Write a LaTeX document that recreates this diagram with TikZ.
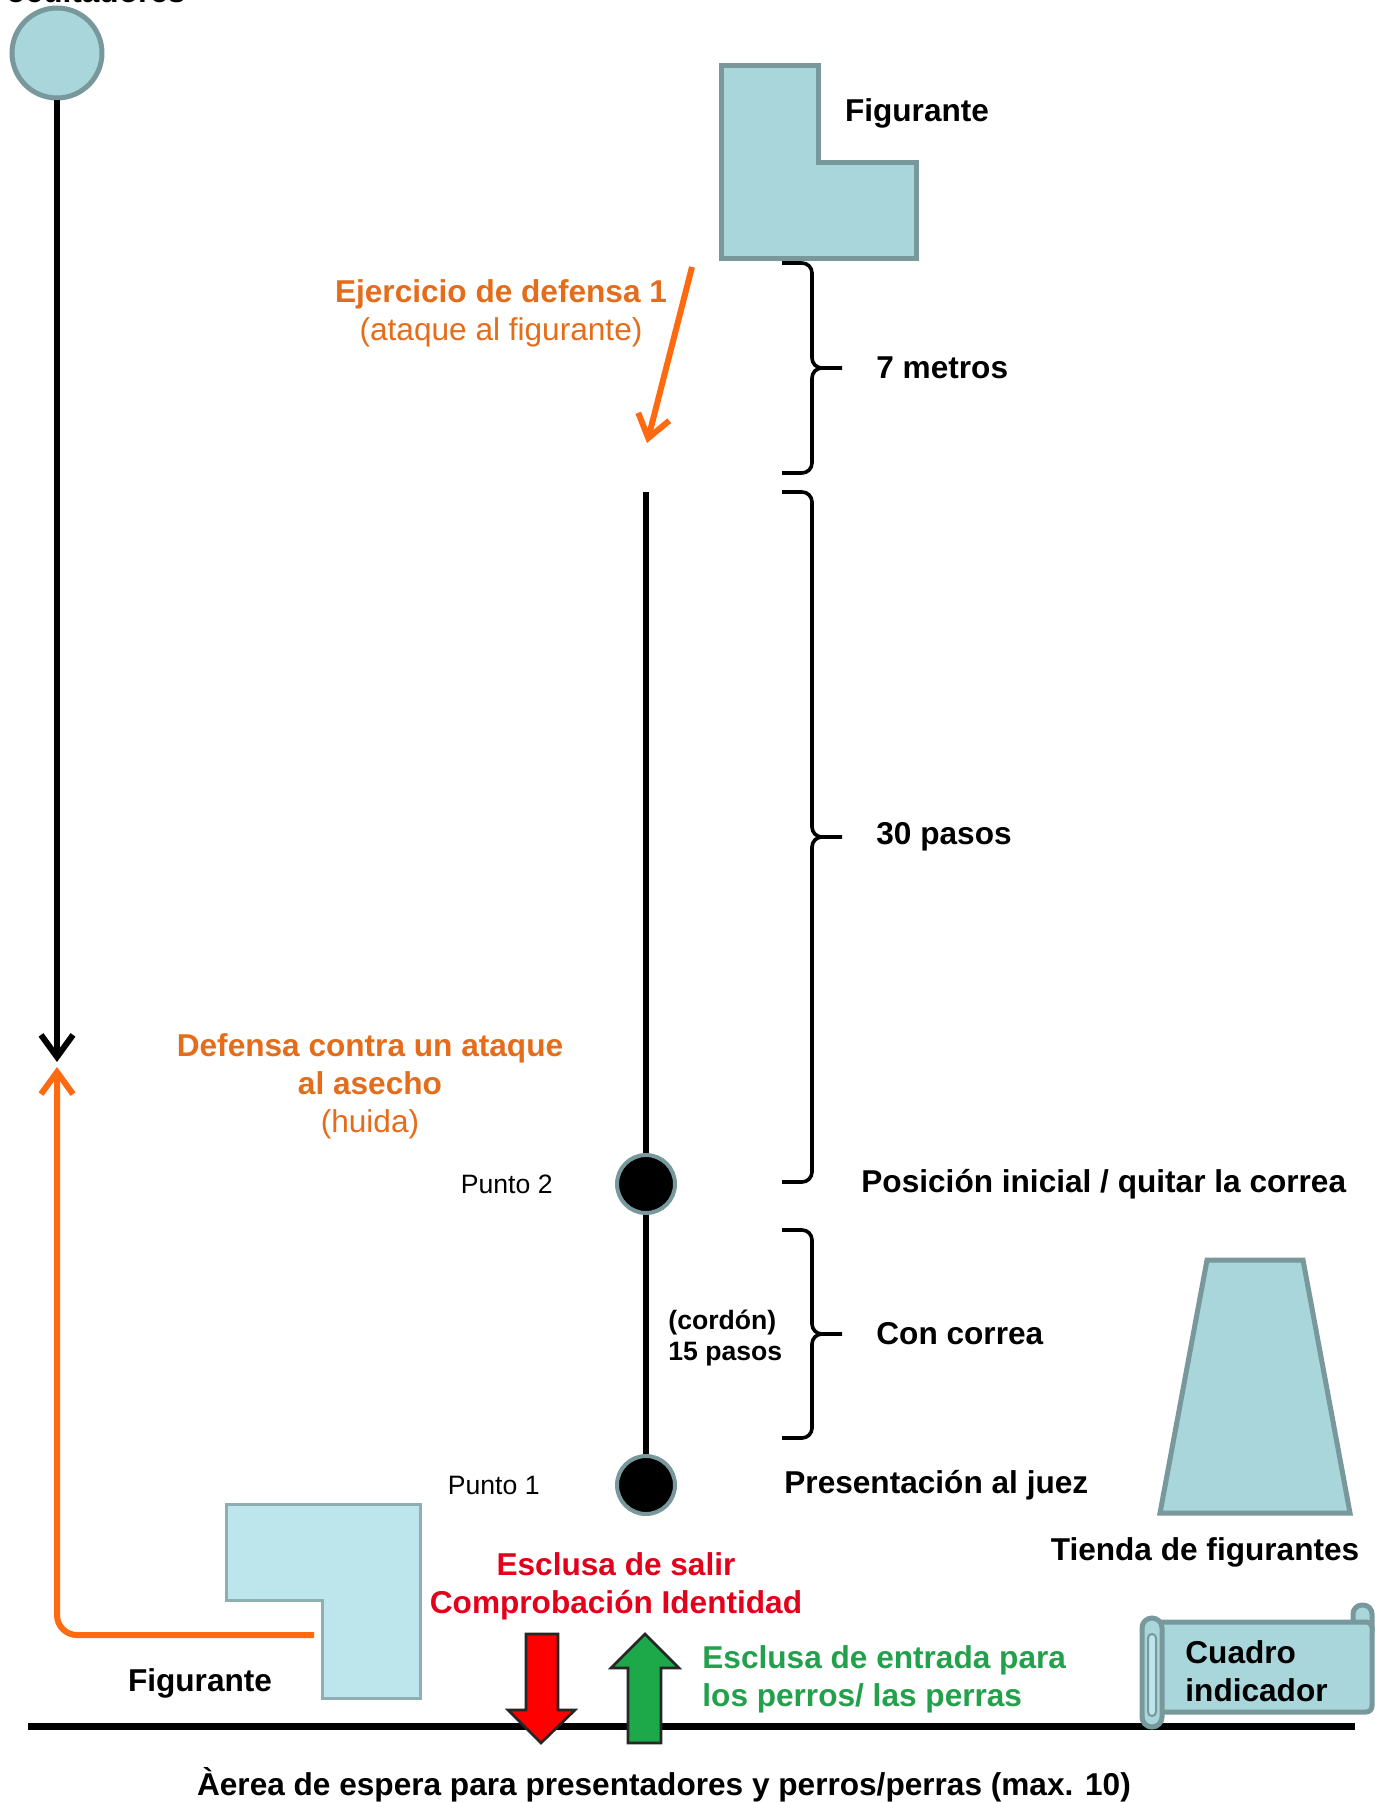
\documentclass[tikz,border=0pt]{standalone}
\usepackage{fontspec}
\setmainfont{Liberation Sans}
\usetikzlibrary{arrows.meta, positioning}
\definecolor{tealfill}{HTML}{A8D6DA}
\definecolor{tealline}{HTML}{78989B}
\definecolor{palefill}{HTML}{BCE6EC}
\definecolor{paleline}{HTML}{8DAEB2}
\definecolor{runorange}{HTML}{FF6A10}
\definecolor{textorange}{HTML}{E46C1A}
\definecolor{textred}{HTML}{E2001A}
\definecolor{textgreen}{HTML}{23A04B}
\definecolor{exitred}{HTML}{FF0000}
\definecolor{entrygreen}{HTML}{1DA84A}
\newcommand{\labelfont}{\fontsize{15.8}{19}\selectfont}
\newcommand{\smallfont}{\fontsize{13.3}{15.5}\selectfont}
\tikzstyle{note} = [inner sep=0pt, font=\labelfont\bfseries]
\tikzstyle{small_note} = [inner sep=0pt, font=\smallfont]
\tikzstyle{track} = [line width=3pt]
\tikzstyle{ground} = [line width=3.5pt]
\tikzstyle{arrow} = [line width=3pt, -{Straight Barb[length=11pt, width=16pt]}]
\tikzstyle{flee} = [arrow, draw=runorange, rounded corners=10pt]
\tikzstyle{brace} = [line width=1.8pt, rounded corners=5pt]
\tikzstyle{hideout} = [circle, draw=tealline, fill=tealfill, line width=2.5pt, minimum size=45pt, inner sep=0pt]
\tikzstyle{spot} = [circle, draw=tealline, fill=black, line width=2pt, minimum size=29pt, inner sep=0pt]
\tikzstyle{figure} = [draw=tealline, fill=tealfill, line width=2.5pt]
\tikzstyle{pale_figure} = [draw=paleline, fill=palefill, line width=1.5pt]
\tikzstyle{gate} = [draw=black!85, line width=1.3pt]

\begin{document}
\begin{tikzpicture}[x=0.5pt, y=-0.5pt]
    \useasboundingbox (0,0) rectangle (1383,1802);

    % Hide
    \node (hide_title) [note, anchor=base west] at (6,3) {ocultadores};
    \node (hide_spot) [hideout] at (57,53) {};
    \coordinate (black_tip) at (57,1062);
    \draw [arrow] (hide_spot) -- (black_tip);

    % Figurante (top)
    \draw [figure] (721,66) -- (818,66) -- (818,163) -- (916,163) -- (916,259) -- (721,259) -- cycle;
    \node (fig_top) [note] at (917,113) {Figurante};

    % Defence exercise 1
    \node (ej_text) [note, text=textorange, align=center] at (501,313) {Ejercicio de defensa 1\\{\mdseries (ataque al figurante)}};
    \coordinate (ej_from) at (692,267);
    \coordinate (ej_to) at (647,443);
    \draw [arrow, draw=runorange] (ej_from) -- (ej_to);

    % Track
    \coordinate (line_top) at (646,492);
    \node (dot2) [spot] at (646,1184) {};
    \node (dot1) [spot] at (646,1485) {};
    \draw [track] (line_top) -- (dot2.north);
    \draw [track] (dot2.south) -- (dot1.north);

    \node (punto2) [small_note, left=31pt of dot2] {Punto 2};
    \node (punto1) [small_note, left=37.5pt of dot1] {Punto 1};
    \node (start_pos) [note, right=92pt of dot2] {Posición inicial / quitar la correa};
    \node (present) [note, right=53.5pt of dot1] {Presentación al juez};
    \node (cordon) [small_note, font=\smallfont\bfseries, align=left, anchor=west] at (668,1338) {(cordón)\\15 pasos};

    % Braces
    \draw [brace] (782,263) -- (812,263) -- (812,368) -- (842,368);
    \draw [brace] (824,368) -- (812,368) -- (812,473) -- (782,473);
    \draw [brace] (782,492) -- (812,492) -- (812,837) -- (842,837);
    \draw [brace] (824,837) -- (812,837) -- (812,1182) -- (782,1182);
    \draw [brace] (782,1230) -- (812,1230) -- (812,1334) -- (842,1334);
    \draw [brace] (824,1334) -- (812,1334) -- (812,1438) -- (782,1438);

    \coordinate (brace1_tip) at (842,368);
    \coordinate (brace2_tip) at (842,837);
    \coordinate (brace3_tip) at (842,1334);
    \node (metros) [note, right=17pt of brace1_tip] {7 metros};
    \node (pasos) [note, right=17pt of brace2_tip] {30 pasos};
    \node (correa) [note, right=17pt of brace3_tip] {Con correa};

    % Figurante (bottom) and flight
    \draw [pale_figure] (226,1504) -- (420,1504) -- (420,1698) -- (322,1698) -- (322,1600) -- (226,1600) -- cycle;
    \node (fig_bottom) [note] at (200,1683) {Figurante};
    \coordinate (flee_start) at (314,1635);
    \coordinate (orange_tip) at (57,1067);
    \draw [flee] (flee_start) -| (orange_tip);
    \node (defense_text) [note, text=textorange, align=center] at (370,1086) {Defensa contra un ataque\\al asecho\\{\mdseries (huida)}};

    % Tent
    \draw [figure] (1207,1260) -- (1303,1260) -- (1350,1513) -- (1160,1513) -- cycle;
    \node (tent) [note] at (1205,1552) {Tienda de figurantes};

    % Ground line
    \coordinate (ground_left) at (28,1726);
    \coordinate (ground_right) at (1355,1726);
    \draw [ground] (ground_left) -- (ground_right);

    % Gates
    \draw [gate, fill=exitred] (526,1634) -- (558,1634) -- (558,1710) -- (575,1710) -- (541,1743) -- (508,1710) -- (526,1710) -- cycle;
    \draw [gate, fill=entrygreen] (628,1743) -- (661,1743) -- (661,1668) -- (679,1668) -- (645,1634) -- (611,1668) -- (628,1668) -- cycle;
    \node (exit_text) [note, text=textred, align=center] at (616,1586) {Esclusa de salir\\Comprobación Identidad};
    \node (entry_text) [note, text=textgreen, align=left, anchor=west] at (702,1679) {Esclusa de entrada para\\los perros/ las perras};

    % Board
    \draw [figure, rounded corners=4.5pt] (1353,1605) rectangle (1372,1640);
    \draw [figure, rounded corners=3pt] (1155,1622) rectangle (1372,1712);
    \draw [figure, rounded corners=5pt] (1142,1618) rectangle (1162,1727);
    \draw [draw=tealline, fill=palefill, line width=1pt, rounded corners=2pt] (1148,1634) rectangle (1156,1716);
    \node (board) [note, align=left, anchor=west] at (1185,1671) {Cuadro\\indicador};

    % Waiting area
    \node (waiting) [note] at (664,1785) {Àerea de espera para presentadores y perros/perras (max. 10)};

\end{tikzpicture}
\end{document}
